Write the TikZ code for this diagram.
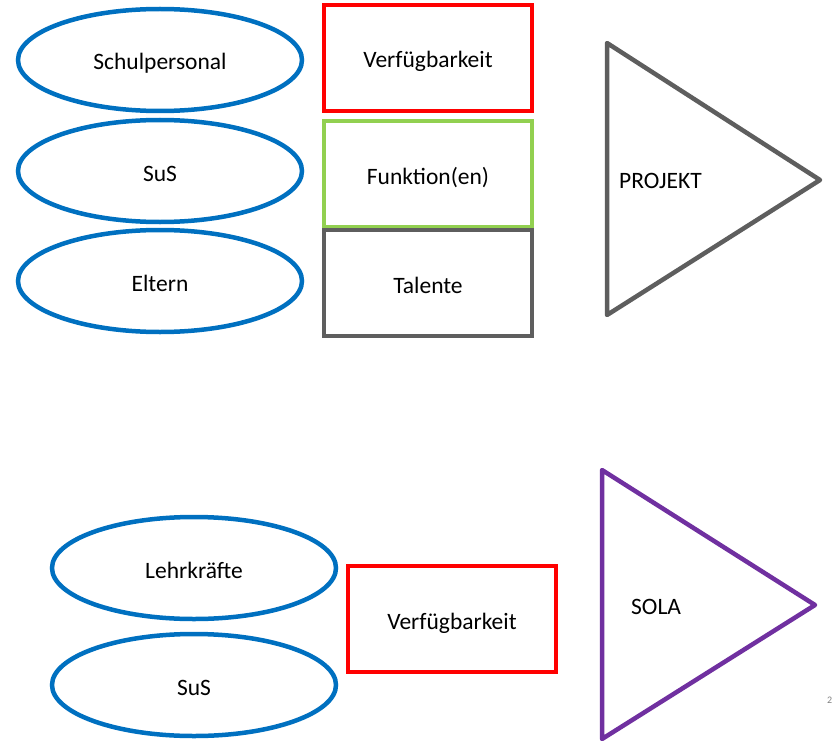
\documentclass[tikz,border=0pt]{standalone}
\usepackage{fontspec}
\setmainfont{Carlito}
\usetikzlibrary{shapes.geometric}
\definecolor{ellblue}{HTML}{0070C0}
\definecolor{boxred}{HTML}{FF0000}
\definecolor{boxgreen}{HTML}{92D050}
\definecolor{boxgray}{HTML}{5E5E5E}
\definecolor{solapurple}{HTML}{7030A0}
\tikzset{
  x=1pt, y=-1pt,
  lbl/.style={font=\fontsize{23.5}{28}\selectfont, text=black, text height=20pt, text depth=0pt},
  ell/.style={ellipse, draw=ellblue, line width=4.5pt, minimum width=284pt, minimum height=102pt, inner sep=0pt, lbl},
  rbox/.style={rectangle, line width=4.5pt, minimum width=208pt, minimum height=106pt, inner sep=0pt, lbl},
  tri/.style={line width=4.5pt, line join=round}
}
\begin{document}
\begin{tikzpicture}
\useasboundingbox (0,0) rectangle (832,741);
\clip (0,0) rectangle (832,741);
% top group
\node[ell] (schul) at (160,60) {Schulpersonal};
\node[ell] (sus1) at (160,171) {SuS};
\node[ell] (eltern) at (160,281) {Eltern};
\node[rbox, draw=boxred] (verf1) at (428,58) {Verfügbarkeit};
\node[rbox, draw=boxgreen] (funk) at (428,174) {Funktion(en)};
\node[rbox, draw=boxgray] (tal) at (428,283) {Talente};
\draw[tri, draw=boxgray] (607,43) -- (820,180) -- (607,315) -- cycle;
\node[lbl, anchor=west, inner sep=0pt] (proj) at (619,178) {PROJEKT};
% bottom group
\node[ell] (lehr) at (194,568) {Lehrkräfte};
\node[ell] (sus2) at (194,685) {SuS};
\node[rbox, draw=boxred] (verf2) at (452,619) {Verfügbarkeit};
\draw[tri, draw=solapurple] (602,470) -- (815,605) -- (602,739) -- cycle;
\node[lbl, anchor=west, inner sep=0pt] (sola) at (631,604) {SOLA};
% page number (cut off)
\node[font=\fontsize{10}{12}\selectfont, text=gray, anchor=west, inner sep=0pt] (pnum) at (827,700) {2};
\end{tikzpicture}
\end{document}
